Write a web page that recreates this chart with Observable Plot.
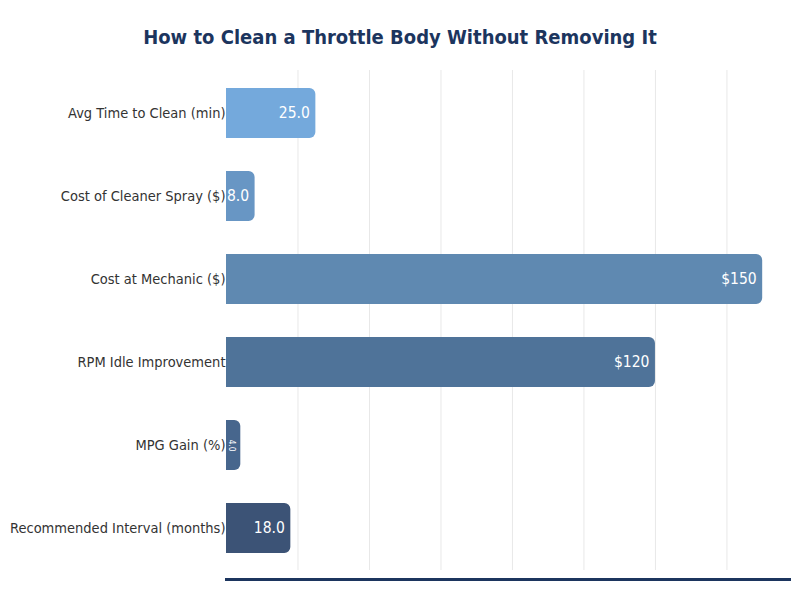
<!DOCTYPE html>
<html>
<head>
<meta charset="utf-8">
<script src="https://cdn.jsdelivr.net/npm/d3@7"></script>
<script src="https://cdn.jsdelivr.net/npm/@observablehq/plot@0.6"></script>
<style>
  body { margin: 0; background: #ffffff; font-family: "DejaVu Sans Condensed", "DejaVu Sans", sans-serif; }
  #title { height: 60px; line-height: 74px; text-align: center; font-size: 20px; font-weight: bold; color: #1c355e; }
  #chart svg { display: block; }
</style>
</head>
<body>
<div id="title">How to Clean a Throttle Body Without Removing It</div>
<div id="chart"></div>
<script>
const categories = [
  "Avg Time to Clean (min)",
  "Cost of Cleaner Spray ($)",
  "Cost at Mechanic ($)",
  "RPM Idle Improvement",
  "MPG Gain (%)",
  "Recommended Interval (months)"
];
const values = [25, 8, 150, 120, 4, 18];
const valueLabels = ["25.0", "8.0", "$150", "$120", "4.0", "18.0"];
const colors = ["#74a9dc", "#6896c4", "#5f89b1", "#4f7399", "#47668d", "#3c5376"];
const gridTicks = [20, 40, 60, 80, 100, 120, 140];

const data = categories.map((c, i) => ({category: c, value: values[i], label: valueLabels[i], color: colors[i]}));
const wide = data.filter(d => d.value >= 6);
const narrow = data.filter(d => d.value < 6);

const chart = Plot.plot({
  width: 800,
  height: 540,
  marginTop: 10,
  marginBottom: 30,
  marginLeft: 226,
  marginRight: 11,
  style: {fontFamily: "'DejaVu Sans Condensed', 'DejaVu Sans', sans-serif", fontSize: "14.5px", color: "#333333", background: "#ffffff"},
  x: {domain: [0, 157.5], axis: null},
  y: {domain: categories, padding: 0.4, paddingOuter: 0.2, label: null},
  marks: [
    Plot.gridX(gridTicks, {stroke: "#e8e8e8", strokeOpacity: 1, strokeWidth: 1}),
    Plot.barX(data, {y: "category", x: "value", fill: "color", rx2: 6}),
    Plot.text(wide, {y: "category", x: "value", text: "label", textAnchor: "end", dx: -6, fill: "white", fontSize: 15.5}),
    Plot.text(narrow, {y: "category", x: d => d.value / 2, text: "label", rotate: 90, dx: -2, fill: "white", fontSize: 8.5}),
    Plot.axisY({tickSize: 0, tickPadding: 1, fontSize: 14.5, fill: "#333333", label: null}),
    Plot.frame({anchor: "bottom", stroke: "#1c355e", strokeWidth: 3, insetBottom: -9})
  ]
});
document.getElementById("chart").appendChild(chart);
</script>
</body>
</html>
